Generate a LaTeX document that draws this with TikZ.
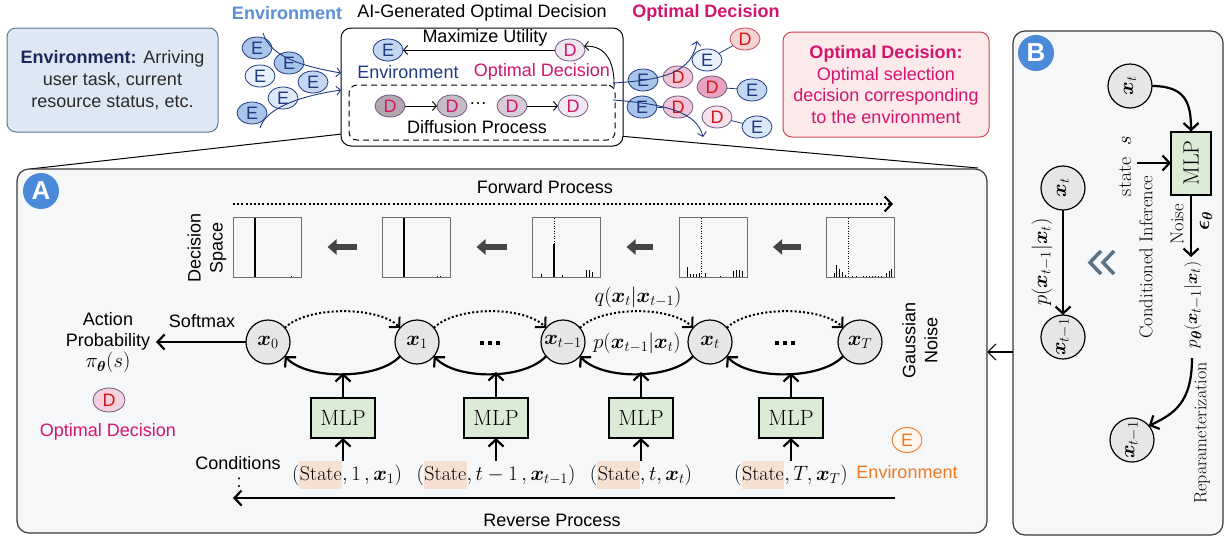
\documentclass[tikz,border=0pt]{standalone}
\usepackage{fontspec}
\usepackage{amsmath,bm}
\usetikzlibrary{arrows.meta,shapes.geometric,calc}
\newfontfamily\arialf{Liberation Sans}
\definecolor{envblue}{HTML}{5B8FD6}
\definecolor{navy}{HTML}{1F3A80}
\definecolor{envhead}{HTML}{1A2A5C}
\definecolor{envtext}{HTML}{2A2A2A}
\definecolor{mag}{HTML}{D4146E}
\definecolor{dred}{HTML}{D01818}
\definecolor{orng}{HTML}{F07820}
\definecolor{panelfill}{HTML}{F6F7F9}
\definecolor{pborder}{HTML}{3A3A3A}
\definecolor{envfill}{HTML}{DEE8F4}
\definecolor{envborder}{HTML}{5A7A90}
\definecolor{optfill}{HTML}{FCE9EA}
\definecolor{optborder}{HTML}{D24555}
\definecolor{edark}{HTML}{A9C5EA}
\definecolor{elight}{HTML}{E9F1FB}
\definecolor{emid}{HTML}{C3D7F2}
\definecolor{dborder}{HTML}{6E5A80}
\definecolor{dD}{HTML}{EFE6F0}
\definecolor{d1}{HTML}{B4A6AE}
\definecolor{d2}{HTML}{C6BAC4}
\definecolor{d3}{HTML}{D8CCD8}
\definecolor{d4}{HTML}{F1E9F1}
\definecolor{rD1}{HTML}{F5D3D3}
\definecolor{rD2}{HTML}{F2C4DA}
\definecolor{rD3}{HTML}{E8A2C3}
\definecolor{rD5}{HTML}{F8E0EC}
\definecolor{mlpfill}{HTML}{DCEBD5}
\definecolor{circfill}{HTML}{E6E6E6}
\definecolor{hl}{HTML}{F5E0D2}
\definecolor{abblue}{HTML}{4A8AD8}
\definecolor{chev}{HTML}{5A7286}
\definecolor{histgray}{HTML}{707070}
\definecolor{garrow}{HTML}{454545}
\newcommand\hlstate{{\setlength{\fboxsep}{0.5pt}\colorbox{hl}{\rule[-8pt]{0pt}{27pt}$\mathrm{State}$}}}
\begin{document}
\begin{tikzpicture}[x=1pt,y=-1pt,
  every node/.style={inner sep=0pt, outer sep=0pt},
  sans/.style={font=\arialf\fontsize{18}{22}\selectfont},
  serif/.style={font=\fontsize{18.5}{22}\selectfont},
  mathf/.style={font=\fontsize{20.5}{22}\selectfont},
  ell/.style={ellipse, draw=navy, line width=0.8pt, minimum width=30pt, minimum height=22pt, font=\arialf\fontsize{18}{18}\selectfont, text=navy},
  dnode/.style={ellipse, draw=dborder, line width=0.8pt, minimum width=30pt, minimum height=22pt, font=\arialf\fontsize{18}{18}\selectfont, text=mag},
  thinarr/.style={draw=navy, line width=0.9pt, -{Straight Barb[length=4pt,width=9pt]}},
  blkarr/.style={draw=black, line width=0.9pt, -{Straight Barb[length=4pt,width=9pt]}},
  oarr/.style={line width=2.2pt, -{Straight Barb[length=7pt,width=15pt]}},
  fwd/.style={line width=2pt, dash pattern=on 2pt off 2.2pt, -{Straight Barb[length=7pt,width=15pt]}},
  circ/.style={circle, draw, line width=1.2pt, fill=circfill, minimum size=44pt, font=\fontsize{21}{21}\selectfont},
  mlp/.style={draw, line width=2pt, fill=mlpfill, minimum width=64pt, minimum height=40pt, font=\fontsize{22}{22}\selectfont},
  hbox/.style={draw=histgray, line width=1pt, minimum width=68pt, minimum height=60pt},
  garr/.style={draw=garrow, line width=5.5pt, -{Triangle[length=9pt,width=15pt]}, shorten <=26pt, shorten >=26pt},
  panelbox/.style={draw=pborder, line width=1.2pt, fill=panelfill, rounded corners=12pt},
  badge/.style={circle, fill=abblue, minimum size=36pt, text=white, font=\arialf\bfseries\fontsize{26}{26}\selectfont},
  cond/.style={font=\fontsize{20}{20}\selectfont},
  hbarline/.style={line width=1pt, draw=black},
  vdot/.style={line width=1pt, dash pattern=on 1pt off 1.5pt},
]
\useasboundingbox (0,0) rectangle (1225,536);

% ---------- top titles ----------
\node[font=\arialf\bfseries\fontsize{18}{22}\selectfont, text=envblue] (tenv) at (287,13) {Environment};
\node[sans] (tai) at (482,13) {AI-Generated Optimal Decision};
\node[font=\arialf\bfseries\fontsize{18}{22}\selectfont, text=mag] (topt) at (706,13) {Optimal Decision};

% ---------- info boxes ----------
\node[draw=envborder, fill=envfill, rounded corners=9pt, line width=1pt, minimum width=211pt, minimum height=104pt, align=center, font=\arialf\fontsize{18}{22}\selectfont, text=envtext] (envbox) at (112.5,80) {{\bfseries\color{envhead}Environment:} Arriving\\user task, current\\resource status, etc.};
\node[draw=optborder, fill=optfill, rounded corners=9pt, line width=1pt, minimum width=206pt, minimum height=105pt, align=center, font=\arialf\fontsize{18}{21.7}\selectfont, text=mag] (optbox) at (886,84.5) {{\bfseries Optimal Decision:}\\Optimal selection\\decision corresponding\\to the environment};

% ---------- zoom lines ----------
\coordinate (zl1) at (342,134);
\coordinate (zl2) at (30,169);
\coordinate (zr1) at (619,136);
\coordinate (zr2) at (978,168);
\draw[line width=1pt] (zl1) -- (zl2);
\draw[line width=1pt] (zr1) -- (zr2);

% ---------- AI box ----------
\node[draw, line width=1pt, rounded corners=10pt, minimum width=282pt, minimum height=118pt, fill=white] (aibox) at (482,87) {};
\node[draw, line width=1pt, dash pattern=on 6pt off 4pt, rounded corners=8pt, minimum width=266pt, minimum height=55pt] (dbox) at (482,112.5) {};
\node[ell, fill=emid] (ae) at (388,50) {E};
\node[dnode, fill=dD] (ad) at (570,50) {D};
\draw[blkarr] (ad.west) -- (ae.east);
\node[sans] (tmax) at (485,38) {Maximize Utility};
\node[sans, text=navy] (tenvi) at (408,72) {Environment};
\node[sans, text=mag] (topti) at (542,72) {Optimal Decision};
\node[dnode, fill=d1] (d1) at (390,106) {D};
\node[dnode, fill=d2] (d2) at (452,106) {D};
\node[sans] (ddots) at (478,104) {\dots};
\node[dnode, fill=d3] (d3) at (512,106) {D};
\node[dnode, fill=d4] (d4) at (573,106) {D};
\draw[blkarr] (d1.east) -- (d2.west);
\draw[blkarr] (d3.east) -- (d4.west);
\node[sans] (tdiff) at (477,127) {Diffusion Process};
\coordinate (j0) at (614,88);
\draw[blkarr] (j0) .. controls (615,64) and (607,45) .. (ad.15);

% ---------- left cluster ----------
\node[ell, fill=edark] (le1) at (257,48) {E};
\node[ell, fill=edark] (le2) at (289,63) {E};
\node[ell, fill=elight] (le3) at (260,76) {E};
\node[ell, fill=emid] (le4) at (313,82) {E};
\node[ell, fill=elight!70!emid] (le5) at (283,98) {E};
\node[ell, fill=edark] (le6) at (252,113) {E};
\coordinate (lc1) at (263,33);
\coordinate (lc2) at (341,73);
\coordinate (lc3) at (260,128);
\coordinate (lc4) at (341,90);
\draw[thinarr] (lc1) .. controls (270,56) and (300,66) .. (lc2);
\draw[thinarr] (lc3) .. controls (266,108) and (300,96) .. (lc4);

% ---------- right cluster ----------
\node[dnode, draw=optborder, fill=rD1, text=dred] (rd1) at (745,39) {D};
\node[ell, fill=elight] (re1) at (707,60) {E};
\node[ell, fill=edark] (re2) at (643,80) {E};
\node[dnode, fill=rD2, text=dred] (rd2) at (678,77) {D};
\node[dnode, fill=rD3, text=dred] (rd3) at (712,87) {D};
\node[ell, fill=emid] (re3) at (752,90) {E};
\node[ell, fill=edark] (re4) at (642,107) {E};
\node[dnode, fill=rD2, text=dred] (rd4) at (678,107) {D};
\node[dnode, fill=rD5, text=dred] (rd5) at (717,117) {D};
\node[ell, fill=elight!60!emid] (re5) at (757,127) {E};
\draw[navy, line width=0.8pt] (re1) -- (rd1);
\draw[navy, line width=0.8pt] (rd3) -- (re3);
\draw[navy, line width=0.8pt] (rd5) -- (re5);
\draw[navy, line width=0.8pt] (re4) -- (rd4);
\coordinate (rc1) at (613,83);
\coordinate (rc2) at (697,41);
\coordinate (rc3) at (613,100);
\coordinate (rc4) at (703,137);
\draw[thinarr] (rc1) .. controls (665,80) and (692,72) .. (rc2);
\draw[thinarr] (rc3) .. controls (665,104) and (697,112) .. (rc4);

% ---------- panels ----------
\node[panelbox, minimum width=970pt, minimum height=364pt] (pa) at (502,351) {};
\node[panelbox, minimum width=210pt, minimum height=504pt] (pb) at (1118,283) {};
\node[badge] (la) at (41,191) {A};
\node[badge] (lb) at (1036,53) {B};
\draw[line width=1.2pt, -{Straight Barb[length=8pt,width=16pt]}] (pb.west |- 0,352) -- (pa.east |- 0,352);

% ---------- panel A: forward process ----------
\node[sans] (tfwd) at (545,187) {Forward Process};
\coordinate (fw1) at (233,204);
\coordinate (fw2) at (893,204);
\draw[fwd] (fw1) -- (fw2);
\node[sans, rotate=90, align=center] (tds) at (207,248) {Decision\\Space};

\node[hbox] (h1) at (267.5,247) {};
\node[hbox] (h2) at (416.5,247) {};
\node[hbox] (h3) at (566.5,247) {};
\node[hbox] (h4) at (713,247) {};
\node[hbox] (h5) at (860.5,247) {};
\draw[garr] (h2.west) -- (h1.east);
\draw[garr] (h3.west) -- (h2.east);
\draw[garr] (h4.west) -- (h3.east);
\draw[garr] (h5.west) -- (h4.east);

% histogram contents
\draw[line width=1.4pt] (255,218) -- (255,277);
\draw[hbarline] (291,277) -- ++(0,-1.5);
\draw[line width=1.4pt] (404,218) -- (404,277);
\foreach \x in {437,440} \draw[hbarline] (\x,277) -- ++(0,-1.5);
\draw[vdot] (554,218) -- (554,244);
\draw[line width=1.6pt] (554,244) -- (554,277);
\foreach \x/\h in {541/3,562/2,586/7,589/7,592/5} \draw[hbarline] (\x,277) -- ++(0,-\h);
\draw[vdot] (701,218) -- (701,277);
\foreach \x/\h in {687/10,690/3,693/3,696/3,699/4,705/4,720/1.5,733/6,736/7,739/7,742/6} \draw[hbarline] (\x,277) -- ++(0,-\h);
\draw[vdot] (848,218) -- (848,277);
\foreach \x/\h in {834/4,836/12,839/8,842/5,845/2,852/1.5,856/1,863/1,866/1,869/1.5,872/1,875/1,878/1.5,881/1,886/4,889/6,891/8} \draw[hbarline] (\x,277) -- ++(0,-\h);

\node[mathf] (tq) at (638,297) {$q(\bm{x}_t|\bm{x}_{t-1})$};

% ---------- chain ----------
\node[circ] (n0) at (268,342) {$\bm{x}_0$};
\node[circ] (n1) at (417,342) {$\bm{x}_1$};
\node[circ] (n2) at (563,342) {$\bm{x}_{t-1}$};
\node[circ] (n3) at (710,342) {$\bm{x}_t$};
\node[circ] (n4) at (860,342) {$\bm{x}_T$};
\coordinate (dots1) at (490,343);
\coordinate (dots2) at (785,343);
\foreach \c in {dots1,dots2} \foreach \dx in {-8,0,8} \fill ($(\c)+(\dx-1.8,-1.8)$) rectangle ++(3.6,3.6);
\foreach \a/\b in {n0/n1,n1/n2,n2/n3,n3/n4} {
  \draw[fwd] (\a.40) .. controls +(22,-22) and +(-22,-22) .. (\b.140);
  \draw[oarr] (\b.-140) .. controls +(-22,24) and +(22,24) .. (\a.-40);
}
\node[mathf] (tp) at (637,343) {$p(\bm{x}_{t-1}|\bm{x}_t)$};

% left side
\node[sans, align=center, inner sep=6pt, font=\arialf\fontsize{18}{21}\selectfont] (ap) at (108,343) {Action\\Probability\\{\fontsize{20}{20}\selectfont$\pi_{\bm{\theta}}(s)$}};
\node[sans] (tsoft) at (202,321) {Softmax};
\draw[oarr] (n0.west) -- (ap.east |- n0.west);
\node[dnode, fill=rD2!80!white, text=dred, minimum width=32pt, minimum height=24pt] (ldd) at (109,400) {D};
\node[sans, text=mag] (tod) at (108,432) {Optimal Decision};

% MLPs
\node[mlp] (m1) at (343,418) {MLP};
\node[mlp] (m2) at (496,418) {MLP};
\node[mlp] (m3) at (641,418) {MLP};
\node[mlp] (m4) at (791,418) {MLP};
\coordinate (a1) at (343,373);
\coordinate (a2) at (496,372);
\coordinate (a3) at (641,372);
\coordinate (a4) at (791,373);
\draw[oarr] (m1.north) -- (a1);
\draw[oarr] (m2.north) -- (a2);
\draw[oarr] (m3.north) -- (a3);
\draw[oarr] (m4.north) -- (a4);

\node[cond] (c1) at (347,475) {$(\text{\hlstate}, 1\,, \bm{x}_1)$};
\node[cond] (c2) at (496,475) {$(\text{\hlstate}, t-1\,, \bm{x}_{t-1})$};
\node[cond] (c3) at (641,475) {$(\text{\hlstate}, t, \bm{x}_t)$};
\node[cond] (c4) at (791,475) {$(\text{\hlstate}, T, \bm{x}_T)$};
\draw[oarr] (c1.north -| m1.south) -- (m1.south);
\draw[oarr] (c2.north -| m2.south) -- (m2.south);
\draw[oarr] (c3.north -| m3.south) -- (m3.south);
\draw[oarr] (c4.north -| m4.south) -- (m4.south);

\node[sans] (tcond) at (238,463) {Conditions};
\node[sans] (tcolon) at (239,483) {:};
\coordinate (rv1) at (895,498);
\coordinate (rv2) at (233,498);
\draw[oarr] (rv1) -- (rv2);
\node[sans] (trev) at (552,520) {Reverse Process};

\node[ellipse, draw=orng, line width=0.9pt, fill=orng!6!white, minimum width=30pt, minimum height=25pt, text=orng, font=\arialf\fontsize{18}{18}\selectfont] (oe) at (907,440) {E};
\node[sans, text=orng] (toe) at (907,472) {Environment};
\node[sans, rotate=90, align=center] (tgn) at (920,340) {Gaussian\\Noise};

% ---------- panel B ----------
\node[circ] (bt) at (1130,86) {\rotatebox{90}{$\bm{x}_t$}};
\node[mlp, minimum width=40pt, minimum height=63pt] (bm) at (1191,163) {\rotatebox{90}{MLP}};
\draw[oarr] (bt.east) .. controls +(34,0) and +(0,-28) .. (bm.north);
\coordinate (bs) at (1137,163);
\draw[oarr] (bs) -- (bm.west);
\node[rotate=90, font=\fontsize{20}{20}\selectfont] (tstate) at (1125,166) {state\ \ $s$};
\coordinate (bn) at (1191,257);
\draw[oarr] (bm.south) -- (bn);
\node[serif, rotate=90] (tnoise) at (1177,224) {Noise};
\node[mathf, rotate=90] (teps) at (1206,221) {$\bm{\epsilon}_{\bm{\theta}}$};
\node[serif, rotate=90] (tci) at (1146,257) {Conditioned Inference};
\node[rotate=90, font=\fontsize{19}{20}\selectfont] (tpt) at (1193,305) {$p_{\bm{\theta}}(\bm{x}_{t-1}|\bm{x}_t)$};
\coordinate (br) at (1192,358);
\node[circ] (bl) at (1132,440) {\rotatebox{90}{$\bm{x}_{t-1}$}};
\draw[oarr] (br) .. controls +(0,45) and +(25,-12) .. (bl.40);
\node[rotate=90, font=\fontsize{18}{20}\selectfont] (trep) at (1202,433) {Reparameterization};

\node[circ] (bt2) at (1063,188) {\rotatebox{90}{$\bm{x}_t$}};
\node[circ] (bl2) at (1063,337) {\rotatebox{90}{$\bm{x}_{t-1}$}};
\draw[oarr] (bt2.south) -- (bl2.north);
\node[mathf, rotate=90] (tpl) at (1042,262) {$p(\bm{x}_{t-1}|\bm{x}_t)$};
\draw[chev, line width=3.5pt, line join=miter] (1101,251) -- (1090,262.5) -- (1101,274);
\draw[chev, line width=3.5pt, line join=miter] (1114,251) -- (1103,262.5) -- (1114,274);
\end{tikzpicture}
\end{document}
